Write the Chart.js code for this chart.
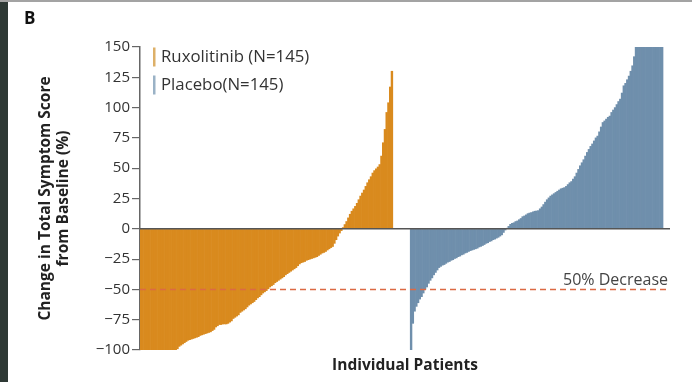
<!DOCTYPE html>
<html><head><meta charset="utf-8">
<script src="https://cdn.jsdelivr.net/npm/chart.js@4"></script>
<style>html,body{margin:0;padding:0;background:#fff;overflow:hidden}canvas{display:block}</style>
</head><body>
<canvas id="c" width="692" height="382"></canvas>
<script>
const panelLabel = 'B';
const seriesNames = ['Ruxolitinib (N=145)', 'Placebo(N=145)'];
const seriesColors = ['#d98a1e', '#6f8fac'];
const legendColors = ['#ddb068', '#9ab2c6'];
const ruxolitinib = [
 -100,-100,-100,-100,-100,-100,-100,-100,-100,-100,-100,-100,-100,-100,-100,-100,-100,-100,-100,-100,-100,
 -99,-97,-96,-95,-94,-93,-92,-91.5,-91,-90.5,-90,-89.5,-89,-88,-87.5,-87,-86.5,-86,-85.5,-85,
 -84,-83,-81,-80,-79,-79,-78.5,-78.5,-78.5,-78,-77,-76,-74,-73,-72,-71,-69,-68,-67,-66,
 -64.5,-63,-62,-61,-60,-58.5,-57,-56,-54.5,-53,-52,-51,-49.5,-48,-47,-46,-44.5,-43.5,-42.5,-41.5,
 -40.5,-39.5,-38,-37,-36,-35,-34,-33,-32,-30.5,-29,-28,-27.5,-27,-26,-25.5,-25,-24.5,-24,-23.5,
 -23,-22,-21,-20,-19.5,-18.7,-17.5,-16.5,-15.5,-14.6,-12,-9,-6,-3.5,-1.5,
 1,3.5,6,9,12,14.5,16.5,18.5,21,24,27,29.5,32,35,38,40.5,43,46,48,49.5,51,53,60,71,82,96,104,117,130
];
const placebo = [
 -100,-78,-68,-64,-61,-58,-56,-53,-50,-48,-45,-42.5,-40.5,-38,-36,-34,-32,-31,-30,-29.5,
 -28.5,-27.5,-27,-26,-25.5,-24.5,-24,-23,-22.5,-21.5,-21,-20,-19.5,-18.7,-18,-17.5,-17,-16.5,-16,-15,
 -14.5,-13.8,-13,-12,-11.5,-10.5,-10,-9,-8.5,-7.7,-7,-6,-5,-3,-1,
 0.5,2,3.7,4.5,5,6,6.5,7.5,8.5,10,10.6,11.5,12.5,13,13.4,14,14.5,14.7,15,16.5,18,20,22,24,25.5,
 27,28,29,30,31,32,33,33.5,34,35,36.5,38,39,41,43,46,49,52,54.5,57,60,63,65.5,68,70,72.5,75,76.5,
 80,84,87.7,89,90.5,92,93,96,98,100,102.5,105,107,112,118,120,123,126,130,134.5,142,
 150,150,150,150,150,150,150,150,150,150,150,150,150,150,150,150
];
const gapSlots = 10;
const tailSlots = 4;
const yTickValues = [-100,-75,-50,-25,0,25,50,75,100,125,150];
const thresholdValue = -50;
const thresholdLabel = '50% Decrease';
const xTitle = 'Individual Patients';
const yTitle = ['Change in Total Symptom Score', 'from Baseline (%)'];

const FONT = "'Open Sans', 'Noto Sans', sans-serif";
const nulls = n => Array(n).fill(null);
const total = ruxolitinib.length + gapSlots + placebo.length + tailSlots;
const labels = Array.from({length: total}, (_, i) => String(i + 1));
const ruxData = ruxolitinib.concat(nulls(total - ruxolitinib.length));
const plaData = nulls(ruxolitinib.length + gapSlots).concat(placebo, nulls(tailSlots));

const decor = {
  id: 'decor',
  beforeDraw(chart) {
    const ctx = chart.ctx;
    ctx.save();
    ctx.fillStyle = '#fff';
    ctx.fillRect(0, 0, chart.width, chart.height);
    ctx.fillStyle = '#2e3935';
    ctx.fillRect(0, 0, 8, chart.height);
    ctx.fillStyle = '#a3a3a3';
    ctx.fillRect(0, 0, chart.width, 2);
    ctx.restore();
  },
  afterDatasetsDraw(chart) {
    const ctx = chart.ctx, y = chart.scales.y, a = chart.chartArea;
    ctx.save();
    const y0 = y.getPixelForValue(0);
    ctx.strokeStyle = '#555';
    ctx.lineWidth = 1.5;
    ctx.beginPath(); ctx.moveTo(a.left, y0); ctx.lineTo(a.right, y0); ctx.stroke();
    const yt = y.getPixelForValue(thresholdValue);
    ctx.strokeStyle = '#dc6a44';
    ctx.lineWidth = 1.5;
    ctx.setLineDash([6, 4]);
    ctx.beginPath(); ctx.moveTo(a.left, yt); ctx.lineTo(a.right, yt); ctx.stroke();
    ctx.setLineDash([]);
    ctx.fillStyle = '#444';
    ctx.font = "16px " + FONT;
    ctx.textAlign = 'right';
    ctx.textBaseline = 'alphabetic';
    ctx.fillText(thresholdLabel, a.right - 2, yt - 4);
    ctx.textAlign = 'left';
    ctx.textBaseline = 'middle';
    ctx.font = "16.8px " + FONT;
    seriesNames.forEach((name, i) => {
      const cy = 57 + i * 28;
      ctx.fillStyle = legendColors[i];
      ctx.fillRect(a.left + 13, cy - 9.5, 2.5, 19);
      ctx.fillStyle = '#333';
      ctx.fillText(name, a.left + 21, cy);
    });
    ctx.font = "bold 17px " + FONT;
    ctx.fillStyle = '#111';
    ctx.fillText(panelLabel, 24, 19);
    ctx.restore();
  }
};

new Chart(document.getElementById('c'), {
  type: 'bar',
  data: {
    labels,
    datasets: [
      {label: seriesNames[0], data: ruxData, backgroundColor: seriesColors[0], borderWidth: 0},
      {label: seriesNames[1], data: plaData, backgroundColor: seriesColors[1], borderWidth: 0}
    ]
  },
  options: {
    responsive: false,
    animation: false,
    devicePixelRatio: 1,
    layout: {padding: {left: 0, right: 22, top: 47, bottom: 0}},
    datasets: {bar: {grouped: false, barPercentage: 1, categoryPercentage: 1}},
    plugins: {legend: {display: false}, tooltip: {enabled: false}},
    scales: {
      x: {
        type: 'category',
        ticks: {display: false},
        grid: {display: false},
        border: {display: false},
        title: {display: true, text: xTitle, color: '#222', font: {family: FONT, size: 15.5, weight: 'bold'}, padding: {top: 0, bottom: 7}},
        afterFit(s) { s.height = 32; }
      },
      y: {
        min: -100, max: 150,
        afterBuildTicks(s) { s.ticks = yTickValues.map(v => ({value: v})); },
        ticks: {
          color: '#333', padding: 2,
          font: {family: FONT, size: 15},
          callback: v => (v < 0 ? '\u2212' + Math.abs(v) : String(v))
        },
        grid: {drawOnChartArea: false, drawTicks: true, tickLength: 8, color: '#666', lineWidth: 1.2},
        border: {display: true, color: '#666', width: 1.5},
        title: {display: true, text: yTitle, color: '#222', font: {family: FONT, size: 15.5, weight: 'bold', lineHeight: 1.2}, padding: {top: 36, bottom: 0}},
        afterFit(s) { s.width = 140; }
      }
    }
  },
  plugins: [decor]
});
</script>
</body></html>
